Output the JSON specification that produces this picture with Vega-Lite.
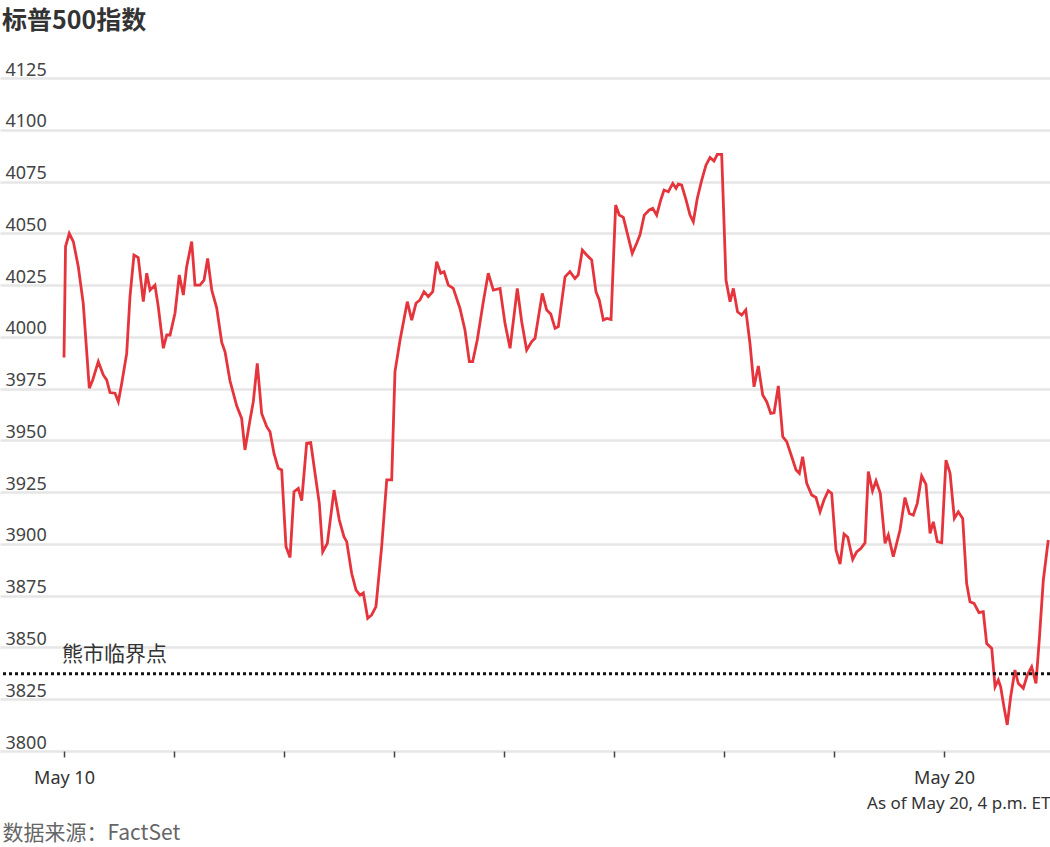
{
  "$schema": "https://vega.github.io/schema/vega-lite/v6.json",
  "width": 1050,
  "height": 673,
  "autosize": {"type": "none"},
  "padding": {"left": 0, "top": 78, "right": 0, "bottom": 96},
  "background": "white",
  "config": {"view": {"stroke": null}, "font": "Noto Sans"},
  "title": {
    "text": "标普500指数",
    "anchor": "start",
    "frame": "group",
    "font": "Noto Sans CJK SC",
    "fontSize": 25,
    "fontWeight": "bold",
    "color": "#333333",
    "offset": 27,
    "dx": 2
  },
  "datasets": {
    "spx": [
      {"t": 0.000, "v": 3990.0}, {"t": 0.014, "v": 4043.6}, {"t": 0.048, "v": 4050.0}, {"t": 0.085, "v": 4046.0},
      {"t": 0.130, "v": 4033.9}, {"t": 0.175, "v": 4016.2}, {"t": 0.230, "v": 3975.2}, {"t": 0.261, "v": 3979.2},
      {"t": 0.312, "v": 3988.0}, {"t": 0.357, "v": 3981.6}, {"t": 0.388, "v": 3979.2}, {"t": 0.418, "v": 3973.1},
      {"t": 0.464, "v": 3972.8}, {"t": 0.494, "v": 3968.7}, {"t": 0.525, "v": 3977.6}, {"t": 0.570, "v": 3992.0},
      {"t": 0.600, "v": 4019.4}, {"t": 0.636, "v": 4039.5}, {"t": 0.675, "v": 4038.3}, {"t": 0.721, "v": 4017.0},
      {"t": 0.752, "v": 4030.7}, {"t": 0.782, "v": 4022.6}, {"t": 0.827, "v": 4025.0}, {"t": 0.857, "v": 4014.6},
      {"t": 0.903, "v": 3994.5}, {"t": 0.934, "v": 4000.9}, {"t": 0.964, "v": 4000.9}, {"t": 1.009, "v": 4011.4},
      {"t": 1.048, "v": 4029.9}, {"t": 1.085, "v": 4020.2}, {"t": 1.115, "v": 4033.9}, {"t": 1.161, "v": 4046.0},
      {"t": 1.191, "v": 4025.0}, {"t": 1.236, "v": 4025.0}, {"t": 1.273, "v": 4027.4}, {"t": 1.306, "v": 4037.9},
      {"t": 1.343, "v": 4022.6}, {"t": 1.388, "v": 4014.0}, {"t": 1.434, "v": 3997.3}, {"t": 1.464, "v": 3992.8},
      {"t": 1.509, "v": 3978.8}, {"t": 1.570, "v": 3966.7}, {"t": 1.615, "v": 3960.6}, {"t": 1.645, "v": 3945.4},
      {"t": 1.691, "v": 3959.8}, {"t": 1.721, "v": 3968.7}, {"t": 1.757, "v": 3987.2}, {"t": 1.797, "v": 3963.0},
      {"t": 1.843, "v": 3956.6}, {"t": 1.873, "v": 3954.2}, {"t": 1.909, "v": 3943.7}, {"t": 1.948, "v": 3936.5},
      {"t": 1.979, "v": 3935.7}, {"t": 2.018, "v": 3898.7}, {"t": 2.055, "v": 3893.5}, {"t": 2.091, "v": 3925.2},
      {"t": 2.130, "v": 3926.8}, {"t": 2.161, "v": 3920.9}, {"t": 2.206, "v": 3948.6}, {"t": 2.243, "v": 3948.9},
      {"t": 2.282, "v": 3934.1}, {"t": 2.321, "v": 3919.6}, {"t": 2.352, "v": 3896.2}, {"t": 2.394, "v": 3900.3},
      {"t": 2.455, "v": 3926.0}, {"t": 2.503, "v": 3911.5}, {"t": 2.545, "v": 3903.5}, {"t": 2.570, "v": 3901.1},
      {"t": 2.615, "v": 3885.8}, {"t": 2.655, "v": 3877.7}, {"t": 2.691, "v": 3875.3}, {"t": 2.721, "v": 3876.4},
      {"t": 2.761, "v": 3864.1}, {"t": 2.797, "v": 3865.7}, {"t": 2.836, "v": 3869.7}, {"t": 2.888, "v": 3898.7},
      {"t": 2.934, "v": 3930.9}, {"t": 2.979, "v": 3930.9}, {"t": 3.009, "v": 3983.2}, {"t": 3.055, "v": 3998.5},
      {"t": 3.121, "v": 4017.0}, {"t": 3.161, "v": 4008.1}, {"t": 3.200, "v": 4016.2}, {"t": 3.236, "v": 4017.8},
      {"t": 3.273, "v": 4021.8}, {"t": 3.312, "v": 4019.4}, {"t": 3.352, "v": 4021.8}, {"t": 3.388, "v": 4036.3},
      {"t": 3.425, "v": 4030.7}, {"t": 3.455, "v": 4031.5}, {"t": 3.494, "v": 4025.0}, {"t": 3.539, "v": 4023.4},
      {"t": 3.600, "v": 4013.7}, {"t": 3.645, "v": 4003.3}, {"t": 3.685, "v": 3988.0}, {"t": 3.715, "v": 3988.0},
      {"t": 3.757, "v": 3998.5}, {"t": 3.812, "v": 4017.0}, {"t": 3.857, "v": 4030.7}, {"t": 3.903, "v": 4022.6},
      {"t": 3.964, "v": 4023.4}, {"t": 4.009, "v": 4006.5}, {"t": 4.055, "v": 3994.5}, {"t": 4.121, "v": 4023.4},
      {"t": 4.161, "v": 4007.3}, {"t": 4.206, "v": 3993.6}, {"t": 4.252, "v": 3997.7}, {"t": 4.282, "v": 3999.3},
      {"t": 4.348, "v": 4021.0}, {"t": 4.388, "v": 4013.0}, {"t": 4.425, "v": 4011.0}, {"t": 4.464, "v": 4004.1},
      {"t": 4.494, "v": 4004.9}, {"t": 4.555, "v": 4029.0}, {"t": 4.600, "v": 4031.5}, {"t": 4.645, "v": 4028.2},
      {"t": 4.675, "v": 4029.9}, {"t": 4.712, "v": 4041.9}, {"t": 4.752, "v": 4039.5}, {"t": 4.797, "v": 4037.1},
      {"t": 4.836, "v": 4021.8}, {"t": 4.866, "v": 4017.8}, {"t": 4.903, "v": 4008.1}, {"t": 4.934, "v": 4008.9},
      {"t": 4.973, "v": 4008.4}, {"t": 5.015, "v": 4063.7}, {"t": 5.048, "v": 4058.8}, {"t": 5.085, "v": 4057.7},
      {"t": 5.121, "v": 4050.0}, {"t": 5.166, "v": 4040.3}, {"t": 5.206, "v": 4045.2}, {"t": 5.236, "v": 4049.2},
      {"t": 5.275, "v": 4058.8}, {"t": 5.321, "v": 4061.3}, {"t": 5.352, "v": 4062.1}, {"t": 5.388, "v": 4058.8},
      {"t": 5.425, "v": 4066.1}, {"t": 5.455, "v": 4070.9}, {"t": 5.494, "v": 4070.1}, {"t": 5.534, "v": 4074.1},
      {"t": 5.564, "v": 4071.7}, {"t": 5.585, "v": 4073.8}, {"t": 5.615, "v": 4073.3}, {"t": 5.655, "v": 4066.1},
      {"t": 5.691, "v": 4058.8}, {"t": 5.721, "v": 4055.6}, {"t": 5.757, "v": 4066.8}, {"t": 5.797, "v": 4075.6},
      {"t": 5.836, "v": 4082.9}, {"t": 5.873, "v": 4086.6}, {"t": 5.909, "v": 4084.9}, {"t": 5.939, "v": 4088.1},
      {"t": 5.979, "v": 4088.1}, {"t": 6.018, "v": 4027.4}, {"t": 6.055, "v": 4017.0}, {"t": 6.085, "v": 4023.4},
      {"t": 6.123, "v": 4012.1}, {"t": 6.161, "v": 4010.5}, {"t": 6.198, "v": 4013.0}, {"t": 6.236, "v": 3996.9},
      {"t": 6.273, "v": 3975.9}, {"t": 6.312, "v": 3985.9}, {"t": 6.352, "v": 3971.9}, {"t": 6.388, "v": 3968.7},
      {"t": 6.425, "v": 3963.0}, {"t": 6.455, "v": 3963.3}, {"t": 6.494, "v": 3976.3}, {"t": 6.534, "v": 3951.8},
      {"t": 6.570, "v": 3949.4}, {"t": 6.606, "v": 3943.7}, {"t": 6.655, "v": 3935.7}, {"t": 6.685, "v": 3934.1},
      {"t": 6.715, "v": 3942.1}, {"t": 6.752, "v": 3929.3}, {"t": 6.797, "v": 3923.6}, {"t": 6.836, "v": 3922.4},
      {"t": 6.873, "v": 3915.5}, {"t": 6.909, "v": 3921.2}, {"t": 6.948, "v": 3925.7}, {"t": 6.979, "v": 3924.4},
      {"t": 7.018, "v": 3897.1}, {"t": 7.055, "v": 3890.3}, {"t": 7.091, "v": 3904.8}, {"t": 7.125, "v": 3903.2},
      {"t": 7.170, "v": 3892.5}, {"t": 7.206, "v": 3896.2}, {"t": 7.243, "v": 3897.8}, {"t": 7.282, "v": 3900.5},
      {"t": 7.312, "v": 3934.9}, {"t": 7.350, "v": 3925.6}, {"t": 7.382, "v": 3930.5}, {"t": 7.421, "v": 3924.4},
      {"t": 7.464, "v": 3900.3}, {"t": 7.494, "v": 3904.3}, {"t": 7.539, "v": 3893.8}, {"t": 7.600, "v": 3906.7},
      {"t": 7.645, "v": 3922.4}, {"t": 7.685, "v": 3914.7}, {"t": 7.721, "v": 3913.9}, {"t": 7.757, "v": 3919.6},
      {"t": 7.797, "v": 3932.8}, {"t": 7.836, "v": 3928.8}, {"t": 7.873, "v": 3905.1}, {"t": 7.903, "v": 3910.7},
      {"t": 7.939, "v": 3901.1}, {"t": 7.979, "v": 3900.6}, {"t": 8.018, "v": 3940.5}, {"t": 8.055, "v": 3934.1},
      {"t": 8.094, "v": 3912.3}, {"t": 8.130, "v": 3915.5}, {"t": 8.170, "v": 3912.3}, {"t": 8.206, "v": 3880.9},
      {"t": 8.236, "v": 3872.1}, {"t": 8.273, "v": 3871.3}, {"t": 8.318, "v": 3866.8}, {"t": 8.357, "v": 3867.3},
      {"t": 8.388, "v": 3851.9}, {"t": 8.434, "v": 3849.5}, {"t": 8.464, "v": 3831.0}, {"t": 8.494, "v": 3834.3},
      {"t": 8.515, "v": 3831.0}, {"t": 8.545, "v": 3821.3}, {"t": 8.575, "v": 3812.6}, {"t": 8.606, "v": 3826.2},
      {"t": 8.645, "v": 3839.1}, {"t": 8.675, "v": 3832.7}, {"t": 8.721, "v": 3830.3}, {"t": 8.757, "v": 3836.7},
      {"t": 8.797, "v": 3840.7}, {"t": 8.836, "v": 3832.7}, {"t": 8.866, "v": 3853.6}, {"t": 8.903, "v": 3882.6},
      {"t": 8.948, "v": 3901.9}
    ],
    "bear": [{"t": 0, "v": 3837.25, "label": "熊市临界点"}]
  },
  "layer": [
    {
      "data": {"name": "spx"},
      "mark": {"type": "line", "color": "#e6343d", "strokeWidth": 2.8, "interpolate": "linear"},
      "encoding": {
        "x": {
          "field": "t",
          "type": "quantitative",
          "scale": {"domain": [-0.5818, 8.9636], "nice": false, "zero": false},
          "axis": {
            "values": [0, 1, 2, 3, 4, 5, 6, 7, 8],
            "labelExpr": "datum.value == 0 ? 'May 10' : datum.value == 8 ? 'May 20' : ''",
            "grid": false,
            "domain": false,
            "tickSize": 6,
            "tickColor": "#444444",
            "tickWidth": 1.5,
            "labelPadding": 12,
            "labelFontSize": 18,
            "labelColor": "#333333",
            "labelFont": "Noto Sans",
            "labelFlush": false,
            "labelOverlap": false,
            "title": "As of May 20, 4 p.m. ET",
            "titleX": 1050,
            "titleY": 52,
            "titleAlign": "right",
            "titleBaseline": "middle",
            "titleFontWeight": "normal",
            "titleFontSize": 17,
            "titleColor": "#333333",
            "titleFont": "Noto Sans"
          }
        },
        "y": {
          "field": "v",
          "type": "quantitative",
          "scale": {"domain": [3800, 4125], "nice": false, "zero": false},
          "axis": {
            "values": [3800, 3825, 3850, 3875, 3900, 3925, 3950, 3975, 4000, 4025, 4050, 4075, 4100, 4125],
            "format": "d",
            "grid": true,
            "gridColor": "#e6e6e6",
            "gridWidth": 2.5,
            "domain": false,
            "ticks": false,
            "tickSize": 0,
            "labelAlign": "left",
            "labelPadding": -5,
            "labelBaseline": "alphabetic",
            "labelOffset": -3,
            "labelFontSize": 18,
            "labelColor": "#444444",
            "labelFont": "Noto Sans",
            "labelOverlap": false,
            "title": "数据来源：FactSet",
            "titleAngle": 0,
            "titleX": 2,
            "titleY": 755,
            "titleAlign": "left",
            "titleBaseline": "middle",
            "titleFontWeight": "normal",
            "titleFontSize": 21,
            "titleColor": "#666666",
            "titleFont": "Noto Sans CJK SC"
          }
        }
      }
    },
    {
      "data": {"name": "bear"},
      "mark": {"type": "rule", "color": "#111111", "strokeWidth": 3, "strokeDash": [3, 3]},
      "encoding": {
        "y": {"field": "v", "type": "quantitative"}
      }
    },
    {
      "data": {"name": "bear"},
      "mark": {"type": "text", "align": "left", "baseline": "middle", "dy": -19, "dx": -2, "font": "Noto Sans CJK SC", "fontSize": 21, "color": "#333333"},
      "encoding": {
        "x": {"field": "t", "type": "quantitative"},
        "y": {"field": "v", "type": "quantitative"},
        "text": {"field": "label"}
      }
    }
  ]
}
